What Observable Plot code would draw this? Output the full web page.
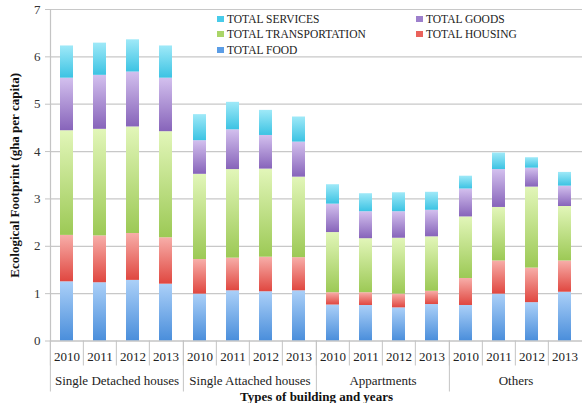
<!DOCTYPE html>
<html>
<head>
<meta charset="utf-8">
<script src="https://cdn.jsdelivr.net/npm/d3@7"></script>
<script src="https://cdn.jsdelivr.net/npm/@observablehq/plot@0.6"></script>
<style>
  html, body { margin: 0; padding: 0; background: #fff; }
  #wrap { position: relative; width: 582px; height: 403px; font-family: "Liberation Serif", serif; }
  #legend { position: absolute; left: 217px; top: 11px; display: grid; grid-template-columns: 199px 120px; row-gap: 0; font-size: 11.5px; color: #222; }
  #legend .item { display: flex; align-items: center; height: 15.5px; white-space: nowrap; }
  #legend .sw { width: 7px; height: 6px; margin-right: 3px; }
</style>
</head>
<body>
<div id="wrap"></div>
<script>
// ---- data ----
const groups = ["Single Detached houses", "Single Attached houses", "Appartments", "Others"];
const years = ["2010", "2011", "2012", "2013"];
const series = ["TOTAL FOOD", "TOTAL HOUSING", "TOTAL TRANSPORTATION", "TOTAL GOODS", "TOTAL SERVICES"];
// values per bar: groups x years, in order
const food      = [1.25, 1.23, 1.28, 1.20, 0.99, 1.06, 1.04, 1.06, 0.76, 0.75, 0.70, 0.77, 0.75, 0.99, 0.81, 1.03];
const housing   = [0.98, 0.99, 0.99, 0.98, 0.73, 0.69, 0.73, 0.70, 0.26, 0.27, 0.29, 0.28, 0.57, 0.70, 0.73, 0.66];
const transport = [2.21, 2.25, 2.25, 2.24, 1.80, 1.87, 1.86, 1.70, 1.27, 1.14, 1.18, 1.15, 1.30, 1.13, 1.71, 1.15];
const goods     = [1.11, 1.14, 1.16, 1.13, 0.71, 0.84, 0.71, 0.74, 0.60, 0.57, 0.56, 0.56, 0.59, 0.80, 0.40, 0.43];
const services  = [0.68, 0.68, 0.68, 0.68, 0.55, 0.58, 0.53, 0.53, 0.41, 0.38, 0.40, 0.38, 0.27, 0.35, 0.22, 0.29];
const yTicks = [0, 1, 2, 3, 4, 5, 6, 7];
const legendOrder = ["TOTAL SERVICES", "TOTAL GOODS", "TOTAL TRANSPORTATION", "TOTAL HOUSING", "TOTAL FOOD"];

// ---- styles ----
const ids = ["gFood", "gHousing", "gTransport", "gGoods", "gServices"];
const gradTop = ["#abd0f8", "#f7aea9", "#e2f6b9", "#d3c0ee", "#9fe9f8"];
const gradBot = ["#4a8edb", "#e04740", "#9cc955", "#8764ba", "#3cc3e3"];
const swatch  = ["#5b9de6", "#ea625b", "#aad568", "#9d80cc", "#48cbe9"];

const valuesBySeries = [food, housing, transport, goods, services];
const rows = [];
groups.forEach((g, gi) => years.forEach((y, yi) => series.forEach((s, si) => {
  rows.push({group: g, year: y, series: s, value: valuesBySeries[si][gi * 4 + yi]});
})));

const W = 582, H = 403, mL = 49, mR = 0, mT = 9, mB = 62.5;
const facetW = (W - mL - mR) / groups.length;
const step = facetW / years.length;
const font = "Liberation Serif";
const sepColor = "#c4c4c4";

const chart = Plot.plot({
  width: W, height: H,
  marginLeft: mL, marginRight: mR, marginTop: mT, marginBottom: mB,
  style: {fontFamily: font, fontSize: "13px", color: "#333", background: "transparent", overflow: "visible"},
  fx: {domain: groups, padding: 0, label: null},
  x: {domain: years, paddingInner: 0.6, paddingOuter: 0.3, label: null},
  y: {domain: [0, 7], label: null},
  color: {domain: series, range: ids.map(d => `url(#${d})`)},
  marks: [
    Plot.gridY(yTicks, {stroke: "#c8c8c8", strokeOpacity: 1, strokeWidth: 1.2}),
    Plot.barY(rows, Plot.stackY({fx: "group", x: "year", y: "value", fill: "series", order: series})),
    Plot.ruleY([0], {stroke: sepColor, strokeWidth: 1.2}),
    Plot.frame({anchor: "left", facetAnchor: "left", stroke: sepColor, strokeWidth: 1.2}),
    Plot.axisY(yTicks, {tickSize: 5, tickPadding: 5, stroke: sepColor, fontSize: 13, fill: "#333",
      label: "Ecological Footprint (gha per capita)", labelAnchor: "center", labelArrow: "none", labelOffset: 41}),
    Plot.axisX({tickSize: 25, stroke: sepColor, dx: -step / 2, tickFormat: () => "", label: null}),
    Plot.axisX({tickSize: 0, tickPadding: 11, fontSize: 13, fill: "#222", label: null}),
    Plot.axisFx({anchor: "bottom", tickSize: 51, stroke: sepColor, dx: -facetW / 2, tickFormat: () => "", label: null}),
    Plot.axisFx({anchor: "bottom", tickSize: 0, tickPadding: 35, fontSize: 13, fill: "#222",
      label: "Types of building and years", labelAnchor: "center", labelArrow: "none", labelOffset: 60})
  ]
});

// gradients
const defs = d3.select(chart).insert("defs", ":first-child");
ids.forEach((id, i) => {
  const g = defs.append("linearGradient").attr("id", id).attr("x1", 0).attr("y1", 0).attr("x2", 0).attr("y2", 1);
  g.append("stop").attr("offset", "0%").attr("stop-color", gradTop[i]);
  g.append("stop").attr("offset", "100%").attr("stop-color", gradBot[i]);
});
// bold axis titles
d3.select(chart).selectAll("[aria-label='y-axis label'] text, [aria-label='fx-axis label'] text, [aria-label='y-axis label'], [aria-label='fx-axis label']")
  .attr("font-weight", "bold").attr("fill", "#111");

const wrap = document.getElementById("wrap");
wrap.appendChild(chart);

// legend
const leg = document.createElement("div");
leg.id = "legend";
legendOrder.forEach(s => {
  const i = series.indexOf(s);
  const item = document.createElement("div");
  item.className = "item";
  const sw = document.createElement("span");
  sw.className = "sw";
  sw.style.background = swatch[i];
  item.appendChild(sw);
  item.appendChild(document.createTextNode(s));
  leg.appendChild(item);
});
wrap.appendChild(leg);
</script>
</body>
</html>
